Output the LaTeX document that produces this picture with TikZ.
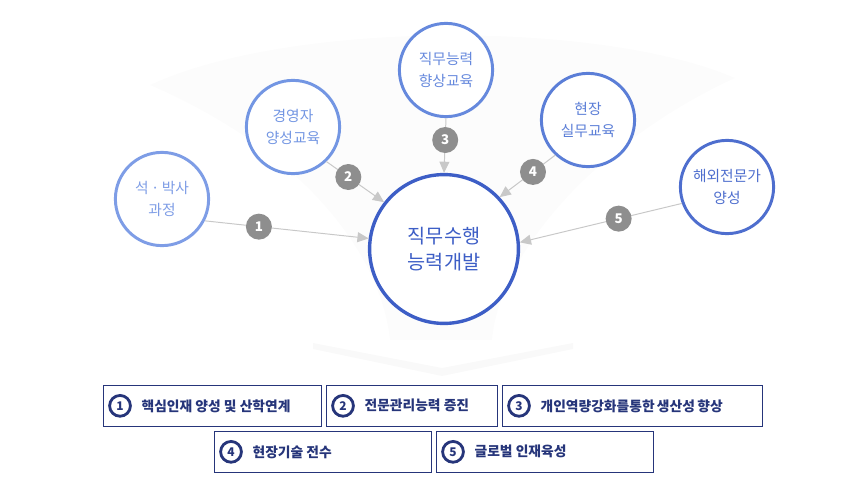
\documentclass[tikz,border=0pt]{standalone}
\usepackage{fontspec}
\setmainfont{Noto Sans CJK KR}
\usepackage{xcolor}
\usetikzlibrary{positioning, arrows.meta}

\definecolor{ringA}{HTML}{7E9DE6}
\definecolor{ringB}{HTML}{7396E3}
\definecolor{ringC}{HTML}{6689DD}
\definecolor{ringD}{HTML}{5B7ED7}
\definecolor{ringE}{HTML}{4E6ECE}
\definecolor{ringM}{HTML}{3D5EC6}
\definecolor{navy}{HTML}{26357A}
\definecolor{linkgray}{HTML}{C8C8C8}
\definecolor{badgegray}{HTML}{8E8E8E}

\begin{document}
\begin{tikzpicture}[
    x=0.025cm, y=-0.025cm,
    goal/.style={circle, draw, line width=2.1pt, fill=white, minimum size=2.33cm,
        align=center, inner sep=0pt, font=\fontsize{10.5}{15.6}\selectfont},
    core/.style={circle, draw=ringM, line width=2.4pt, fill=white, minimum size=3.72cm,
        align=center, text=ringM, font=\fontsize{14}{18.5}\selectfont},
    link/.style={draw=linkgray, line width=0.7pt, -{Triangle[length=0.28cm, width=0.25cm]}},
    badge/.style={circle, fill=badgegray, text=white, minimum size=0.65cm, inner sep=0pt,
        font=\fontsize{9.5}{9.5}\selectfont\bfseries},
    card/.style={draw=navy, line width=0.6pt, anchor=north west, minimum height=1.02cm, inner sep=0pt},
    numring/.style={circle, draw=navy, line width=2pt, minimum size=0.52cm, inner sep=0pt,
        text=navy, font=\fontsize{8.5}{8.5}\selectfont\bfseries},
    cardtext/.style={text=navy, font=\fontsize{9.8}{9.8}\selectfont\bfseries}
]
    \useasboundingbox (0,0) rectangle (860,500);

    % faint funnel behind the circles
    \fill[black!1] (150,85) .. controls (300,150) and (380,250) .. (390,340)
        -- (492,340) .. controls (500,250) and (600,140) .. (735,78)
        .. controls (600,20) and (290,20) .. cycle;
    \fill[black!2.5] (313,343) -- (442,368) -- (573,343) -- (573,349) -- (442,376) -- (313,349) -- cycle;

    \node[core] (M) at (444,249) {직무수행\\능력개발};

    \node[goal, draw=ringA, text=ringA] (A) at (162,199) {석\,·\,박사\\과정};
    \node[goal, draw=ringB, text=ringB] (B) at (293,127) {경영자\\양성교육};
    \node[goal, draw=ringC, text=ringC] (C) at (446,70) {직무능력\\향상교육};
    \node[goal, draw=ringD, text=ringD] (D) at (588,120) {현장\\실무교육};
    \node[goal, draw=ringE, text=ringE] (E) at (727,187) {해외전문가\\양성};

    \draw[link] (A.-27) -- node[badge, pos=.33] (b1) {1} (M.172);
    \draw[link] (B.-46) -- node[badge, pos=.38] (b2) {2} (M.142);
    \draw[link] (C.-90) -- node[badge, pos=.40] (b3) {3} (M.90);
    \draw[link] (D.227) -- node[badge, pos=.40] (b4) {4} (M.43);
    \draw[link] (E.200) -- node[badge, pos=.39] (b5) {5} (M.5);

    \node[card, minimum width=5.45cm] (k1) at (103,385) {};
    \node[card, minimum width=4.28cm] (k2) at (326,385) {};
    \node[card, minimum width=6.5cm] (k3) at (502,385) {};
    \node[card, minimum width=5.43cm] (k4) at (214,431) {};
    \node[card, minimum width=5.43cm] (k5) at (436,431) {};

    \node[numring, right=0.13cm of k1.west] (n1) {1};
    \node[numring, right=0.13cm of k2.west] (n2) {2};
    \node[numring, right=0.13cm of k3.west] (n3) {3};
    \node[numring, right=0.13cm of k4.west] (n4) {4};
    \node[numring, right=0.13cm of k5.west] (n5) {5};

    \node[cardtext, right=0.12cm of n1] (t1) {핵심인재 양성 및 산학연계};
    \node[cardtext, right=0.12cm of n2] (t2) {전문관리능력 증진};
    \node[cardtext, right=0.12cm of n3] (t3) {개인역량강화를통한\,생산성\,향상};
    \node[cardtext, right=0.12cm of n4] (t4) {현장기술 전수};
    \node[cardtext, right=0.12cm of n5] (t5) {글로벌 인재육성};
\end{tikzpicture}
\end{document}
